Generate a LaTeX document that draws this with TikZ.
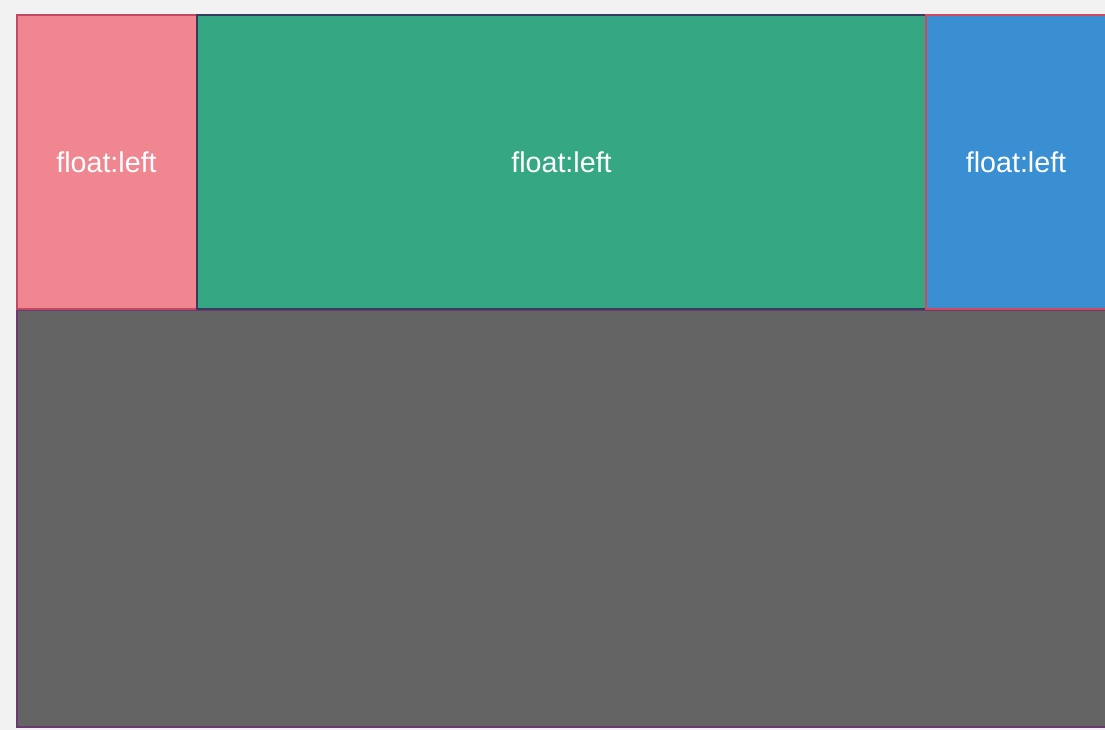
\documentclass[tikz,border=0pt]{standalone}
\usepackage{fontspec}
\setmainfont{Liberation Sans}
\definecolor{bgc}{HTML}{F2F2F2}
\definecolor{pinkc}{HTML}{EF8690}
\definecolor{pinkb}{HTML}{C04A66}
\definecolor{greenc}{HTML}{36A783}
\definecolor{greenb}{HTML}{3A3A5E}
\definecolor{bluec}{HTML}{3A8FD3}
\definecolor{blueb}{HTML}{D04A5C}
\definecolor{grayc}{HTML}{646464}
\definecolor{grayb}{HTML}{6A3A70}
\tikzset{
  lbl/.style={text=white, font=\fontsize{21.5}{24}\selectfont, anchor=base, inner sep=0pt},
  boxline/.style={line width=1.5}
}
\begin{document}
\begin{tikzpicture}[x=0.75pt,y=-0.75pt]
\useasboundingbox (0,0) rectangle (1105,730);
\fill[bgc] (0,0) rectangle (1105,730);
\filldraw[fill=grayc, draw=grayb, boxline] (16.75,310) rectangle (1110,726.5);
\filldraw[fill=pinkc, draw=pinkb, boxline] (16.75,14.75) rectangle (197,309.5);
\filldraw[fill=greenc, draw=greenb, boxline] (197,14.75) rectangle (926,309.5);
\filldraw[fill=bluec, draw=blueb, boxline] (926,14.75) rectangle (1110,309.5);
\node[lbl] (a) at (106.5,173) {float:left};
\node[lbl] (b) at (561.5,173) {float:left};
\node[lbl] (c) at (1016,173) {float:left};
\end{tikzpicture}
\end{document}
